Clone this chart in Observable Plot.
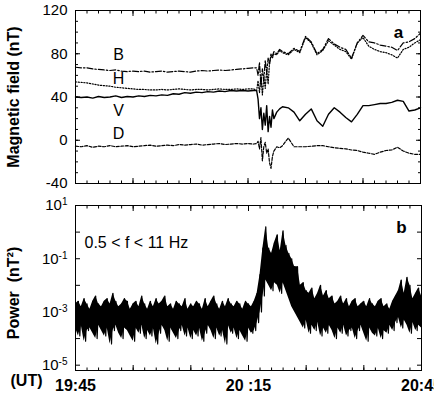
<!DOCTYPE html>
<html><head><meta charset="utf-8">
<script src="https://cdn.jsdelivr.net/npm/d3@7"></script>
<script src="https://cdn.jsdelivr.net/npm/@observablehq/plot@0.6"></script>
<style>
html,body{margin:0;padding:0;background:#fff;overflow:hidden;}
#wrap{position:relative;width:434px;height:393px;}
#wrap svg{position:absolute;left:0;}
</style></head><body><div id="wrap"></div>
<script>
// ---- Panel a: magnetic field components (nT) vs minutes after 19:45 UT ----
const minutes = [
  0,1,2,3,4,5,6,7,8,9,10,11,12,13,14,15,16,17,18,19,20,21,22,23,24,25,26,27,28,29,30,31,
  31.5,31.75,32,32.25,32.5,32.75,33,33.25,33.5,33.75,34,34.25,34.5,35,35.5,36,
  37,38,39,40,41,42,43,44,45,46,47,48,49,50,51,52,53,54,55,56,57,58,59,60
];
const fieldB = [
  67.5,67,67,66,65.5,65,64.5,65,64,63.5,64,63.5,64,63,63.5,64,63,63.5,64,63.5,63,64,64.5,64,64.5,65,64.5,65,65.5,66,66.5,67,
  67,60,72,50,66,56,74,62,76,70,80,78,82,80,84,82,
  80,85,82,96,91,80,84,94,89,86,84,76,90,97,91,90,88,87,86,83,90,91,94,99
];
const fieldH = [
  54,53.5,53,52,51,50.5,50,49,48.5,48,47.5,47,47,46.5,46.5,47,46.5,47,47.5,47,46.5,47,47,46.5,47,47.5,47,47,47.5,47,47.5,47.5,
  46,55,44,60,42,58,48,65,52,72,78,76,80,79,83,81,
  79,84,81,95,90,79,83,92,88,84,82,75,90,95,87,84,82,81,79,76,84,86,90,93
];
const fieldV = [
  40,39.5,40,39,40.5,39.5,40,41,39.5,40.5,40,41,40.5,41.5,41,42,41.5,43,42.5,44,43.5,44.5,44,45,44.5,45.5,45,46,45.5,46,45.5,46,
  46,38,20,30,10,25,14,32,8,22,12,28,20,26,29,31,
  30,26,18,24,29,18,13,24,30,26,21,17,24,32,32,33,34,34,35,37,36,27,28,30
];
const fieldD = [
  -5.5,-6,-5,-6.5,-5.5,-6,-5,-6,-5.5,-5,-6,-5.5,-5,-4.5,-5.5,-5,-4.5,-5,-4,-4.5,-4,-3.5,-4.5,-4,-3.5,-3,-4,-3.5,-3,-3.5,-3,-3.5,
  -3,-1,-8,2.5,-19,-6,-2,-12,-8,-21,-26,-15,-10,-6,-7,-5,
  2,-6,-6,-6,-5.5,-5,-5,-6,-7,-7.5,-8,-9,-9.5,-11,-12,-13,-11,-9.5,-9,-6.5,-10,-12,-13,-13
];
const fieldTicks = [-40, 0, 40, 80, 120];
const seriesNames = ["B", "H", "V", "D"];

// ---- Panel b: wave power 0.5-11 Hz, log10(nT^2) envelope every 0.5 min ----
const powerStep = 0.5;
const powerHiExp = [
  -2.7,-2.6,-2.8,-2.5,-2.7,-2.9,-2.6,-2.4,-2.7,-2.8,-2.6,-2.5,-2.7,-2.3,-2.6,-2.8,-2.7,-2.5,-2.6,-2.9,-2.7,
  -2.6,-2.8,-2.4,-2.7,-2.9,-2.6,-2.8,-2.5,-2.7,-2.6,-2.4,-2.8,-2.7,-2.9,-2.6,-2.7,-2.8,-2.5,-2.9,-2.7,
  -2.8,-2.6,-2.7,-2.9,-2.5,-2.8,-2.6,-2.4,-2.7,-2.9,-2.6,-2.8,-2.5,-2.7,-2.8,-2.6,-2.7,-2.9,-2.6,-2.7,-2.8,-2.6,
  -2.3,-1.6,-0.6,0.2,-0.6,-0.8,-0.4,-0.1,-0.7,0.05,-0.5,-0.8,-1.0,-1.3,-1.3,-2.0,-1.9,-2.2,-2.3,-2.1,
  -2.5,-2.3,-2.0,-2.4,-2.2,-2.5,-2.4,-2.7,-2.6,-2.4,-2.7,-2.5,-2.8,-2.6,-2.5,-2.8,-2.7,-2.6,-2.8,-2.5,
  -2.7,-2.8,-2.6,-2.5,-2.8,-2.7,-2.9,-2.6,-2.4,-2.2,-1.8,-2.3,-1.7,-2.0,-2.5,-2.3,-2.1,-2.4
];
const powerLoExp = [
  -3.6,-3.9,-3.5,-4.1,-3.7,-3.6,-3.8,-4.0,-3.5,-3.7,-3.9,-3.6,-4.2,-3.7,-3.5,-3.8,-4.0,-3.6,-3.7,-3.9,-4.1,
  -3.6,-3.8,-3.5,-4.0,-3.7,-3.9,-3.6,-4.2,-3.8,-3.5,-3.7,-4.1,-3.6,-3.8,-4.0,-3.7,-3.5,-3.9,-3.6,-4.0,
  -3.7,-3.9,-3.6,-4.1,-3.8,-3.5,-3.7,-4.0,-3.6,-3.9,-3.7,-4.2,-3.5,-3.8,-3.6,-4.0,-3.7,-3.9,-4.1,-3.6,-3.8,-3.7,
  -3.4,-3.0,-2.4,-1.8,-2.0,-2.2,-1.9,-2.0,-2.3,-1.9,-2.2,-2.5,-2.8,-3.0,-3.2,-3.4,-3.6,-3.3,-3.8,-3.5,
  -3.7,-3.4,-3.9,-3.6,-3.8,-3.5,-3.7,-4.0,-3.6,-3.8,-3.5,-3.9,-3.7,-3.6,-4.0,-3.7,-3.5,-3.8,-4.1,-3.6,
  -3.8,-3.9,-3.6,-4.0,-3.7,-3.8,-3.5,-3.7,-3.4,-3.2,-3.6,-3.3,-3.5,-3.8,-3.4,-3.7,-3.5,-3.6
];
const powerTicks = [10, 0.1, 0.001, 0.00001];
const powerTickExp = ["1", "-1", "-3", "-5"];
const timeTicks = [0, 30, 60];
const timeTickLabels = ["19:45", "20 :15", "20:45"];

// ---- build tables ----
const fieldData = minutes.map((t, i) => ({t, B: fieldB[i], H: fieldH[i], V: fieldV[i], D: fieldD[i]}));
const powerData = [];
powerHiExp.forEach((e, i) => {
  powerData.push({t: i * powerStep, p: Math.pow(10, e)});
  powerData.push({t: i * powerStep + powerStep / 2, p: Math.pow(10, powerLoExp[i])});
});
const powerBand = powerHiExp.map((e, i) => ({t: i * powerStep, hi: Math.pow(10, e), lo: Math.pow(10, powerLoExp[i])}));
const labelAnchor = [
  {name: "B", t: 7.5, v: 79},
  {name: "H", t: 7.5, v: 57},
  {name: "V", t: 7.5, v: 27.5},
  {name: "D", t: 7.5, v: 6}
];

const FONT = "'Liberation Sans', Arial, Helvetica, sans-serif";
const blank = () => "";
const frameTicks = (yMajor, yMinor) => [
  Plot.axisY(yMajor, {anchor: "left", tickSize: 5, dx: 5, tickFormat: blank, label: null}),
  Plot.axisY(yMajor, {anchor: "right", tickSize: 5, dx: -5, tickFormat: blank, label: null}),
  Plot.axisY(yMinor, {anchor: "left", tickSize: 3, dx: 3, tickFormat: blank, label: null}),
  Plot.axisY(yMinor, {anchor: "right", tickSize: 3, dx: -3, tickFormat: blank, label: null}),
  Plot.axisX(d3.range(0, 61, 10), {anchor: "bottom", tickSize: 5, dy: -5, tickFormat: blank, label: null}),
  Plot.axisX(d3.range(0, 61, 10), {anchor: "top", tickSize: 5, dy: 5, tickFormat: blank, label: null}),
  Plot.axisX(d3.range(0, 61, 2), {anchor: "bottom", tickSize: 2.5, dy: -2.5, tickFormat: blank, label: null}),
  Plot.axisX(d3.range(0, 61, 2), {anchor: "top", tickSize: 2.5, dy: 2.5, tickFormat: blank, label: null})
];

const plotA = Plot.plot({
  width: 434, height: 190,
  marginTop: 10, marginBottom: 7, marginLeft: 75, marginRight: 14,
  style: {fontFamily: FONT, fontSize: "15px", color: "black", background: "white"},
  x: {domain: [0, 60], label: null},
  y: {domain: [-40, 120], label: null},
  marks: [
    Plot.line(fieldData, {x: "t", y: "B", stroke: "black", strokeWidth: 1.2, strokeDasharray: "6,2,1.5,2"}),
    Plot.line(fieldData, {x: "t", y: "H", stroke: "black", strokeWidth: 1.2, strokeDasharray: "1.2,1.6"}),
    Plot.line(fieldData, {x: "t", y: "V", stroke: "black", strokeWidth: 1.4}),
    Plot.line(fieldData, {x: "t", y: "D", stroke: "black", strokeWidth: 1.2, strokeDasharray: "3,1.6"}),
    Plot.text(labelAnchor, {x: "t", y: "v", text: "name", fontSize: 16, fill: "black"}),
    Plot.text(["a"], {frameAnchor: "top-right", dx: -22, dy: 15, textAnchor: "middle", fontSize: 17, fontWeight: "bold", fill: "black"}),
    Plot.text(["Magnetic field (nT)"], {frameAnchor: "left", dx: -62, textAnchor: "middle", rotate: -90, fontSize: 16, fontWeight: "bold", fill: "black"}),
    Plot.axisY(fieldTicks, {anchor: "left", tickSize: 0, tickPadding: 8, tickFormat: d => String(d), fontSize: 15, label: null}),
    ...frameTicks(fieldTicks, d3.range(-40, 121, 10)),
    Plot.frame({stroke: "black", strokeWidth: 1})
  ]
});

const plotB = Plot.plot({
  width: 434, height: 203,
  marginTop: 15, marginBottom: 23, marginLeft: 75, marginRight: 13,
  style: {fontFamily: FONT, fontSize: "15px", color: "black", background: "white"},
  x: {domain: [0, 60], label: null},
  y: {type: "log", domain: [Math.pow(10, -5.2), 10], label: null},
  marks: [
    Plot.areaY(powerBand, {x: "t", y1: "lo", y2: "hi", fill: "black", clip: true}),
    Plot.line(powerData, {x: "t", y: "p", stroke: "black", strokeWidth: 1.2, clip: true}),
    Plot.text(["b"], {frameAnchor: "top-right", dx: -20, dy: 15, textAnchor: "middle", fontSize: 17, fontWeight: "bold", fill: "black"}),
    Plot.text(["0.5 < f < 11 Hz"], {frameAnchor: "top-left", dx: 9, dy: 31, textAnchor: "start", fontSize: 16, fill: "black"}),
    Plot.text(["Power  (nT²)"], {frameAnchor: "left", dx: -62, dy: 5, textAnchor: "middle", rotate: -90, fontSize: 16, fontWeight: "bold", fill: "black"}),
    Plot.text(["(UT)"], {frameAnchor: "bottom-left", dx: -49, dy: 15, textAnchor: "middle", fontSize: 16, fontWeight: "bold", fill: "black"}),
    Plot.axisY(powerTicks, {anchor: "left", tickSize: 0, tickPadding: 8, tickFormat: d => "10^" + powerTickExp[powerTicks.indexOf(d)], fontSize: 15, label: null}),
    Plot.axisX(timeTicks, {anchor: "bottom", tickSize: 0, tickPadding: 9, tickFormat: d => timeTickLabels[timeTicks.indexOf(d)], fontSize: 16, fontWeight: "bold", label: null}),
    ...frameTicks([10, 1, 0.1, 0.01, 0.001, 0.0001, 0.00001], []),
    Plot.frame({stroke: "black", strokeWidth: 1})
  ]
});

// superscript exponents on the log tick labels
const NS = "http://www.w3.org/2000/svg";
plotB.querySelectorAll('g[aria-label="y-axis tick label"] text').forEach(t => {
  const s = t.textContent;
  if (!s.includes("^")) return;
  const [base, exp] = s.split("^");
  t.textContent = "";
  const a = document.createElementNS(NS, "tspan"); a.textContent = base;
  const b = document.createElementNS(NS, "tspan"); b.textContent = exp;
  b.setAttribute("dy", "-0.5em"); b.setAttribute("font-size", "10");
  t.append(a, b);
});

const wrap = document.getElementById("wrap");
plotA.style.top = "0px";
plotB.style.top = "190px";
wrap.append(plotA, plotB);
</script></body></html>
